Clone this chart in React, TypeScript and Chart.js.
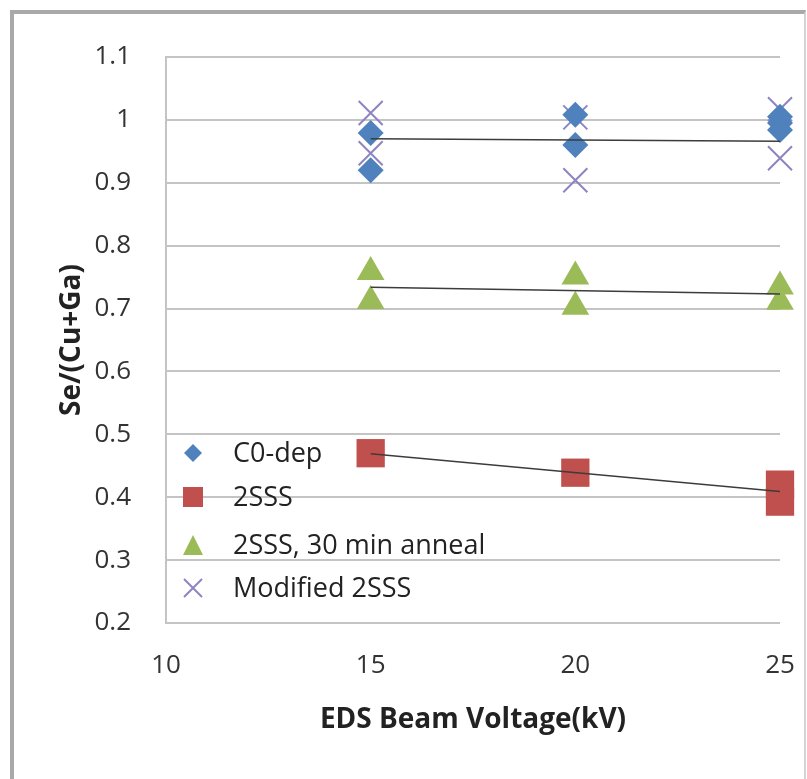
import React, { useEffect, useRef } from "react";
import { Chart, registerables } from "chart.js";

Chart.register(...registerables);

// ---- data ----
const legendLabels = ["C0-dep", "2SSS", "2SSS, 30 min anneal", "Modified 2SSS"];

const coDepX = [15, 15, 20, 20, 25, 25, 25];
const coDepY = [0.979, 0.92, 1.008, 0.96, 1.005, 0.995, 0.984];

const sssX = [15, 20, 25, 25];
const sssY = [0.47, 0.439, 0.42, 0.393];

const annealX = [15, 15, 20, 20, 25, 25];
const annealY = [0.758, 0.712, 0.751, 0.703, 0.735, 0.711];

const modX = [15, 15, 20, 20, 25, 25];
const modY = [1.011, 0.947, 1.004, 0.904, 1.017, 0.939];

const trendX = [15, 25];
const trendCoDep = [0.97, 0.966];
const trendAnneal = [0.734, 0.723];
const trendSSS = [0.469, 0.409];

const yTickValues = [0.2, 0.3, 0.4, 0.5, 0.6, 0.7, 0.8, 0.9, 1.0, 1.1];
const yTickLabels = ["0.2", "0.3", "0.4", "0.5", "0.6", "0.7", "0.8", "0.9", "1", "1.1"];
const xTickLabels = ["10", "15", "20", "25"];

const colors = ["#4F81BD", "#C0504D", "#9BBB59", "#8F84C2"];
const styles = ["rectRot", "rect", "triangle", "crossRot"];

const pts = (xs: number[], ys: number[]) => xs.map((x, i) => ({ x, y: ys[i] }));

const FONT = "'Open Sans', 'Liberation Sans', sans-serif";

function drawMarker(ctx: CanvasRenderingContext2D, style: string, x: number, y: number, s: number, color: string) {
  ctx.save();
  ctx.fillStyle = color;
  ctx.strokeStyle = color;
  ctx.beginPath();
  if (style === "rectRot") {
    ctx.moveTo(x, y - s);
    ctx.lineTo(x + s, y);
    ctx.lineTo(x, y + s);
    ctx.lineTo(x - s, y);
    ctx.closePath();
    ctx.fill();
  } else if (style === "rect") {
    ctx.rect(x - s, y - s, 2 * s, 2 * s);
    ctx.fill();
  } else if (style === "triangle") {
    ctx.moveTo(x, y - s);
    ctx.lineTo(x + s, y + s);
    ctx.lineTo(x - s, y + s);
    ctx.closePath();
    ctx.fill();
  } else {
    ctx.lineWidth = 2;
    ctx.moveTo(x - s, y - s);
    ctx.lineTo(x + s, y + s);
    ctx.moveTo(x + s, y - s);
    ctx.lineTo(x - s, y + s);
    ctx.stroke();
  }
  ctx.restore();
}

const insideLegend = {
  id: "insideLegend",
  afterDatasetsDraw(chart: any) {
    const ctx = chart.ctx as CanvasRenderingContext2D;
    const rowsY = [453, 497, 545, 588];
    const sizes = [9, 10, 10, 9];
    ctx.save();
    ctx.font = `27px ${FONT}`;
    ctx.textBaseline = "middle";
    legendLabels.forEach((label, i) => {
      drawMarker(ctx, styles[i], 193, rowsY[i], sizes[i], colors[i]);
      ctx.fillStyle = "#222";
      ctx.fillText(label, 233, rowsY[i] + 1);
    });
    ctx.restore();
  },
};

export default function App() {
  const ref = useRef<HTMLCanvasElement | null>(null);

  useEffect(() => {
    if (!ref.current) return;
    const trend = (ys: number[]) => ({
      type: "line" as const,
      data: pts(trendX, ys),
      showLine: true,
      borderColor: "#3c3c3c",
      borderWidth: 1.5,
      pointRadius: 0,
      fill: false,
      clip: false,
      order: 0,
    });
    const chart = new Chart(ref.current, {
      type: "scatter",
      data: {
        datasets: [
          trend(trendCoDep),
          trend(trendAnneal),
          trend(trendSSS),
          {
            label: legendLabels[0],
            data: pts(coDepX, coDepY),
            pointStyle: "rectRot",
            pointRadius: 13,
            backgroundColor: colors[0],
            borderColor: colors[0],
            borderWidth: 0,
            clip: false,
            order: 1,
          },
          {
            label: legendLabels[1],
            data: pts(sssX, sssY),
            pointStyle: "rect",
            pointRadius: 20,
            backgroundColor: colors[1],
            borderColor: colors[1],
            borderWidth: 0,
            clip: false,
            order: 1,
          },
          {
            label: legendLabels[2],
            data: pts(annealX, annealY),
            pointStyle: "triangle",
            pointRadius: 16,
            backgroundColor: colors[2],
            borderColor: colors[2],
            borderWidth: 0,
            clip: false,
            order: 1,
          },
          {
            label: legendLabels[3],
            data: pts(modX, modY),
            pointStyle: "crossRot",
            pointRadius: 17,
            backgroundColor: colors[3],
            borderColor: colors[3],
            borderWidth: 2,
            clip: false,
            order: 1,
          },
        ] as any,
      },
      options: {
        responsive: false,
        animation: false,
        layout: { padding: { left: 0, top: 57, right: 27, bottom: 0 } },
        plugins: { legend: { display: false }, tooltip: { enabled: false } },
        scales: {
          x: {
            type: "linear",
            min: 10,
            max: 25,
            afterFit: (s: any) => {
              s.height = 156;
              s.paddingLeft = 0;
              s.paddingRight = 0;
            },
            afterBuildTicks: (s: any) => { s.ticks = xTickLabels.map((t) => ({ value: Number(t) })); },
            ticks: {
              callback: (v: any) => xTickLabels.find((t) => Number(t) === v) ?? "",
              font: { family: FONT, size: 26 },
              color: "#333",
              padding: 27,
            },
            grid: { display: false, drawTicks: false },
            border: { display: false },
            title: {
              display: true,
              text: "EDS Beam Voltage(kV)",
              font: { family: FONT, size: 28, weight: "bold" },
              color: "#222",
              padding: { top: 0, bottom: 42 },
            },
          },
          y: {
            type: "linear",
            min: 0.2,
            max: 1.1,
            afterFit: (s: any) => { s.width = 166; },
            afterBuildTicks: (s: any) => { s.ticks = yTickValues.map((v) => ({ value: v })); },
            ticks: {
              callback: (v: any) => {
                const i = yTickValues.findIndex((t) => Math.abs(t - v) < 1e-6);
                return i >= 0 ? yTickLabels[i] : "";
              },
              font: { family: FONT, size: 26 },
              color: "#333",
              padding: 35,
            },
            grid: { color: "#c4c4c4", lineWidth: 2, drawTicks: false },
            border: { display: true, color: "#c4c4c4", width: 2 },
            title: {
              display: true,
              text: "Se/(Cu+Ga)",
              font: { family: FONT, size: 28, weight: "bold" },
              color: "#222",
              padding: { top: 55, bottom: 0 },
            },
          },
        },
      },
      plugins: [insideLegend],
    });
    return () => chart.destroy();
  }, []);

  return (
    <div style={{ position: "fixed", left: 0, top: 0, width: 807, height: 779, background: "#fff", overflow: "hidden" }}>
      <div
        style={{
          position: "absolute",
          left: 10,
          top: 10,
          width: 790,
          height: 800,
          borderLeft: "4px solid #a9a9a9",
          borderTop: "4px solid #a9a9a9",
          borderRight: "2px solid #d4d4d4",
        }}
      />
      <canvas ref={ref} width={807} height={779} style={{ position: "absolute", left: 0, top: 0, width: 807, height: 779 }} />
    </div>
  );
}
